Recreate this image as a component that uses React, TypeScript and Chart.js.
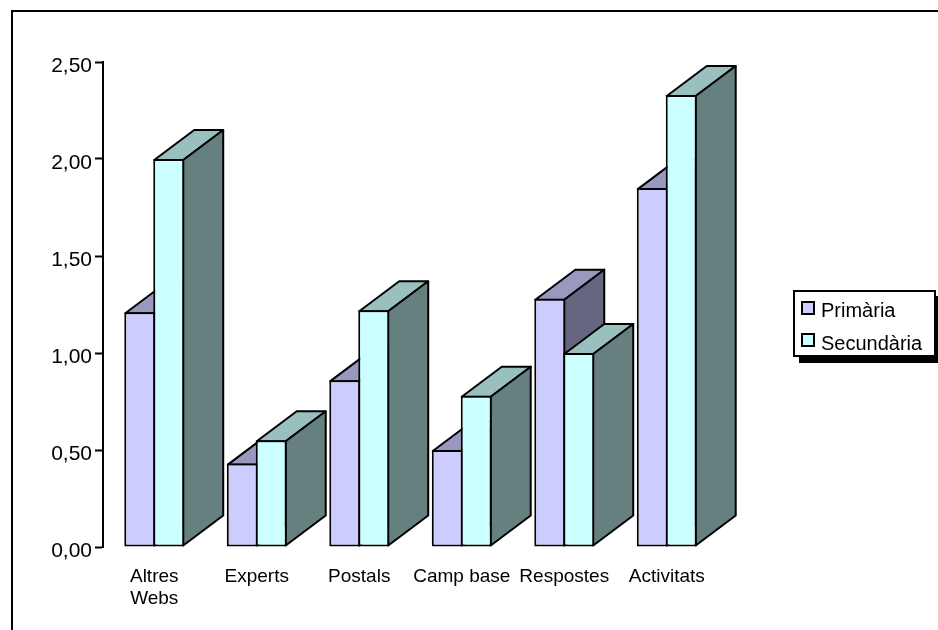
import React, { useEffect, useRef } from "react";
import { Chart, registerables } from "chart.js";

Chart.register(...registerables);

const categories = [["Altres", "Webs"], "Experts", "Postals", "Camp base", "Respostes", "Activitats"];
const primaria = [1.21, 0.43, 0.86, 0.5, 1.28, 1.85];
const secundaria = [2.0, 0.55, 1.22, 0.78, 1.0, 2.33];
const seriesNames = ["Primària", "Secundària"];
const frontColors = ["#CCCCFF", "#CCFFFF"];
const topColors = ["#9999BF", "#99BFBF"];
const sideColors = ["#666680", "#668080"];

const FONT = '"Liberation Sans", Arial, sans-serif';
const DX = 40;
const DY = 30;

const poly = (ctx: CanvasRenderingContext2D, pts: number[][], fill: string) => {
  ctx.beginPath();
  pts.forEach(([x, y], i) => (i ? ctx.lineTo(x, y) : ctx.moveTo(x, y)));
  ctx.closePath();
  ctx.fillStyle = fill;
  ctx.fill();
  ctx.lineWidth = 2;
  ctx.lineJoin = "round";
  ctx.strokeStyle = "#000";
  ctx.stroke();
};

const boxes3d = {
  id: "boxes3d",
  // the library's own pass draws later datasets first; here the later series must lie on top
  beforeDatasetDraw() {
    return false;
  },
  afterDatasetsDraw(chart: any) {
    const ctx = chart.ctx;
    ctx.save();
    chart.data.datasets.forEach((_: any, i: number) => {
      chart.getDatasetMeta(i).data.forEach((el: any) => {
        const l = el.x - el.width / 2 + 1;
        const r = el.x + el.width / 2 - 1;
        const t = el.y + 1;
        const b = el.base - 1;
        poly(ctx, [[l, t], [r, t], [r + DX, t - DY], [l + DX, t - DY]], topColors[i]);
        poly(ctx, [[r, t], [r + DX, t - DY], [r + DX, b - DY], [r, b]], sideColors[i]);
        el.draw(ctx);
      });
    });
    ctx.restore();
  },
};

const frameAndLegend = {
  id: "frameAndLegend",
  beforeDraw(chart: any) {
    const ctx = chart.ctx;
    ctx.save();
    ctx.fillStyle = "#fff";
    ctx.fillRect(0, 0, chart.width, chart.height);
    ctx.strokeStyle = "#000";
    ctx.lineWidth = 2;
    ctx.beginPath();
    ctx.moveTo(12, 630);
    ctx.lineTo(12, 11);
    ctx.lineTo(938, 11);
    ctx.stroke();
    ctx.restore();
  },
  afterDraw(chart: any) {
    const ctx = chart.ctx;
    ctx.save();
    ctx.fillStyle = "#000";
    ctx.fillRect(799, 296, 142, 67);
    ctx.fillStyle = "#fff";
    ctx.fillRect(794, 291, 141, 65);
    ctx.strokeStyle = "#000";
    ctx.lineWidth = 2;
    ctx.strokeRect(794, 291, 141, 65);
    ctx.font = `20px ${FONT}`;
    ctx.textBaseline = "alphabetic";
    chart.data.datasets.forEach((ds: any, i: number) => {
      const y = 302 + i * 32;
      ctx.fillStyle = ds.backgroundColor;
      ctx.fillRect(802, y, 12, 12);
      ctx.strokeRect(802, y, 12, 12);
      ctx.fillStyle = "#000";
      ctx.fillText(ds.label, 821, y + 15 + i);
    });
    ctx.restore();
  },
};

export default function App() {
  const ref = useRef<HTMLCanvasElement>(null);
  useEffect(() => {
    const chart = new Chart(ref.current!, {
      type: "bar",
      data: {
        labels: categories as any,
        datasets: [primaria, secundaria].map((data, i) => ({
          label: seriesNames[i],
          data,
          backgroundColor: frontColors[i],
          borderColor: "#000",
          borderWidth: 2,
          borderSkipped: false,
          categoryPercentage: 0.565,
          barPercentage: 1.07,
        })),
      },
      options: {
        animation: false,
        responsive: false,
        devicePixelRatio: 1,
        layout: { padding: { left: 0, top: 62, right: 220, bottom: 0 } },
        plugins: { legend: { display: false }, tooltip: { enabled: false }, title: { display: false } },
        scales: {
          x: {
            afterFit: (s: any) => {
              s.height = 83;
            },
            grid: { display: false },
            border: { display: false },
            ticks: {
              autoSkip: false,
              maxRotation: 0,
              minRotation: 0,
              padding: 10,
              color: "#000",
              font: { family: FONT, size: 19, lineHeight: 1.2 },
            },
          },
          y: {
            min: 0,
            max: 2.5,
            afterFit: (s: any) => {
              s.width = 103;
              const base = s._computeLabelItems;
              s._computeLabelItems = (area: any) =>
                base.call(s, area).map((it: any) => ({ ...it, textOffset: it.textOffset + 2 }));
            },
            grid: { drawOnChartArea: false, drawTicks: true, tickLength: 8, tickColor: "#000", tickWidth: 2 },
            border: { display: true, color: "#000", width: 2 },
            ticks: {
              stepSize: 0.5,
              padding: 3,
              color: "#000",
              font: { family: FONT, size: 21 },
              callback: (v: any) => Number(v).toFixed(2).replace(".", ","),
            },
          },
        },
      },
      plugins: [boxes3d, frameAndLegend],
    });
    return () => chart.destroy();
  }, []);
  return (
    <div style={{ position: "absolute", left: 0, top: 0, width: 938, height: 630, overflow: "hidden" }}>
      <canvas ref={ref} width={938} height={630} style={{ display: "block" }} />
    </div>
  );
}
